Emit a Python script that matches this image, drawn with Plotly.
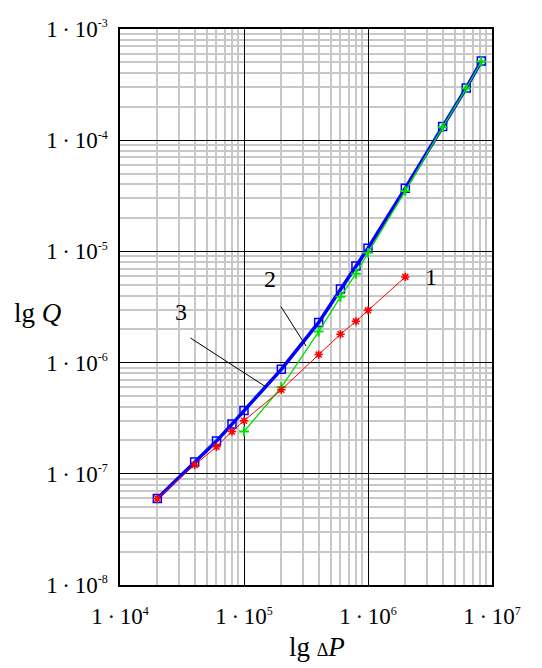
import numpy as np
import plotly.graph_objects as go

# Pressure drop (Pa) and flow rate (m^3/s) for the three curves
dp_1 = [2e4, 4e4, 6e4, 8e4, 1e5, 2e5, 4e5, 6e5, 8e5, 1e6, 2e6]
q_1 = [6.0e-8, 1.2e-7, 1.75e-7, 2.4e-7, 3.0e-7, 5.7e-7, 1.18e-6, 1.8e-6, 2.35e-6, 2.95e-6, 5.9e-6]

dp_2 = [1e5, 2e5, 4e5, 6e5, 8e5, 1e6, 2e6, 4e6, 6.2e6, 8.2e6]
q_2 = [2.4e-7, 6.0e-7, 1.9e-6, 3.9e-6, 6.3e-6, 9.7e-6, 3.5e-5, 1.31e-4, 2.92e-4, 5.1e-4]

dp_3 = [2e4, 4e4, 6e4, 8e4, 1e5, 2e5, 4e5, 6e5, 8e5, 1e6, 2e6, 4e6, 6.2e6, 8.2e6]
q_3 = [6.0e-8, 1.28e-7, 1.97e-7, 2.8e-7, 3.7e-7, 8.7e-7, 2.3e-6, 4.6e-6, 7.4e-6, 1.07e-5,
       3.7e-5, 1.33e-4, 2.95e-4, 5.15e-4]

x_decades = [1e4, 1e5, 1e6, 1e7]
x_exponents = ["4", "5", "6", "7"]
y_decades = [1e-8, 1e-7, 1e-6, 1e-5, 1e-4, 1e-3]
y_exponents = ["-8", "-7", "-6", "-5", "-4", "-3"]

# Curve labels: (text, log10 x, log10 y)
curve_labels = [("1", 6.504, -5.230), ("2", 5.21, -5.248), ("3", 4.492, -5.545)]
# Leader lines: (tail log x, tail log y, head log x, head log y)
leaders = [(5.290, -5.482, 5.500, -5.851), (4.556, -5.770, 5.177, -6.219)]

x_minor = [m * 10 ** k for k in range(4, 7) for m in range(2, 10)]
y_minor = [m * 10 ** k for k in range(-8, -3) for m in range(2, 10)]

FONT = "Liberation Serif, Times New Roman, serif"


def power_label(exp):
    return "1\u2009·\u200910<sup><span style='font-size:12px'>" + exp + "</span></sup>"


fig = go.Figure()
fig.add_trace(go.Scatter(
    x=dp_3, y=q_3, mode="lines+markers",
    line=dict(color="#0000ff", width=3.5),
    marker=dict(symbol="square-open", size=8, color="#0000ff", line=dict(width=1.5, color="#0000ff")),
))
fig.add_trace(go.Scatter(
    x=dp_2, y=q_2, mode="lines+markers",
    line=dict(color="#00e000", width=1.3),
    marker=dict(symbol="cross-thin-open", size=7, color="#00e000", line=dict(width=2, color="#00e000")),
))
fig.add_trace(go.Scatter(
    x=dp_1, y=q_1, mode="lines+markers",
    line=dict(color="#ff0000", width=1),
    marker=dict(symbol="asterisk-open", size=7, color="#ff0000", line=dict(width=1.5, color="#ff0000")),
))

annotations = []
for txt, lx, ly in curve_labels:
    annotations.append(dict(x=lx, y=ly, xref="x", yref="y", text=txt, showarrow=False,
                            font=dict(family=FONT, size=24, color="black")))
for tx, ty, hx, hy in leaders:
    annotations.append(dict(x=hx, y=hy, ax=tx, ay=ty, xref="x", yref="y", axref="x", ayref="y",
                            text="", showarrow=True, arrowhead=0, arrowwidth=1, arrowcolor="black"))
annotations.append(dict(x=0.53, y=-0.112, xref="paper", yref="paper", showarrow=False,
                        xanchor="center", yanchor="middle",
                        text="lg <span style='font-size:18px'>Δ</span><i>P</i>",
                        font=dict(family=FONT, size=27, color="black")))
annotations.append(dict(x=-0.223, y=0.489, xref="paper", yref="paper", showarrow=False,
                        xanchor="center", yanchor="middle",
                        text="lg <i>Q</i>",
                        font=dict(family=FONT, size=27, color="black")))

fig.update_layout(
    width=542, height=668,
    margin=dict(l=120, r=50, t=29, b=83),
    paper_bgcolor="white", plot_bgcolor="white",
    showlegend=False,
    font=dict(family=FONT, size=23, color="black"),
    annotations=annotations,
)
fig.update_xaxes(
    type="log", range=[4, 7],
    tickvals=x_decades, ticktext=[power_label(e) for e in x_exponents],
    showgrid=True, gridcolor="black", gridwidth=1,
    minor=dict(tickvals=x_minor, showgrid=True, gridcolor="#c8c8c8", gridwidth=1.6),
    showline=True, mirror=True, linecolor="black", linewidth=1.5,
    ticks="", ticklabelstandoff=10, zeroline=False,
)
fig.update_yaxes(
    type="log", range=[-8, -3],
    tickvals=y_decades, ticktext=[power_label(e) for e in y_exponents],
    showgrid=True, gridcolor="black", gridwidth=1,
    minor=dict(tickvals=y_minor, showgrid=True, gridcolor="#c8c8c8", gridwidth=1.6),
    showline=True, mirror=True, linecolor="black", linewidth=1.5,
    ticks="", ticklabelstandoff=6, zeroline=False,
)

fig.write_html("out.html")
